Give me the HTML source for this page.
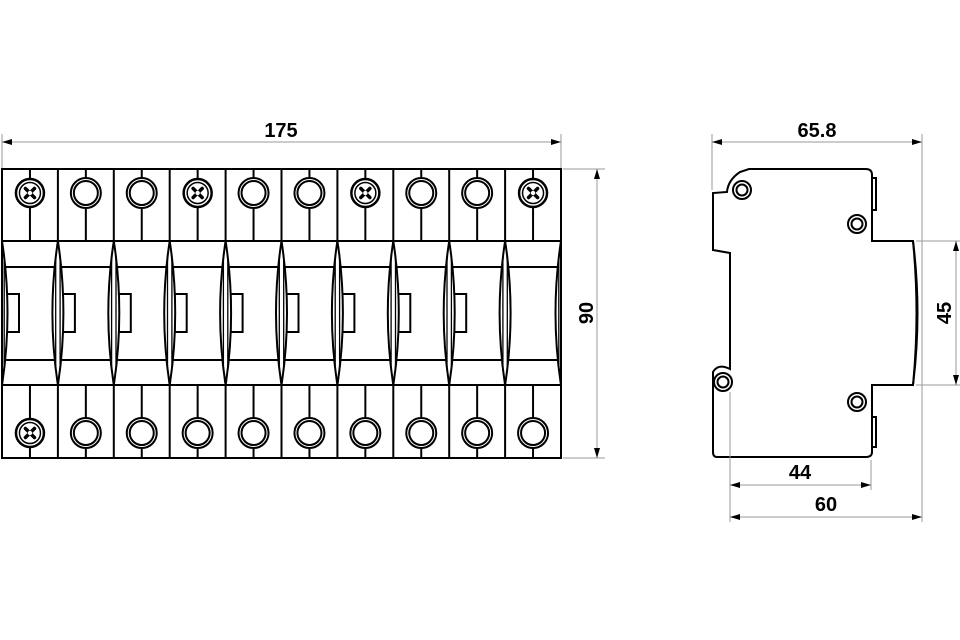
<!DOCTYPE html>
<html><head><meta charset="utf-8"><style>
html,body{margin:0;padding:0;background:#fff;width:960px;height:640px;overflow:hidden}
svg text{font-family:"Liberation Sans",sans-serif;font-weight:bold;font-size:20px;fill:#000}
</style></head><body>
<svg id="s" width="960" height="640" viewBox="0 0 960 640" xmlns="http://www.w3.org/2000/svg">
<defs>
<marker id="a" viewBox="0 0 10 6" refX="10" refY="3" markerWidth="10" markerHeight="6" orient="auto-start-reverse" markerUnits="userSpaceOnUse"><path d="M0,0 L10,3 L0,6 z" fill="#000"/></marker>
<clipPath id="c"><rect x="2" y="160" width="559" height="310"/></clipPath>
</defs>
<g id="front" fill="none" stroke="#000" stroke-width="2" clip-path="url(#c)"></g>
<rect x="2" y="169" width="559" height="289" fill="none" stroke="#000" stroke-width="2"/>
<g stroke="#999" stroke-width="1" fill="none">
<line x1="2" y1="134" x2="2" y2="168"/><line x1="561" y1="134" x2="561" y2="168"/>
<line x1="2" y1="142" x2="561" y2="142" marker-start="url(#a)" marker-end="url(#a)"/>
<line x1="563" y1="169" x2="605" y2="169"/><line x1="563" y1="458" x2="605" y2="458"/>
<line x1="597" y1="169" x2="597" y2="458" marker-start="url(#a)" marker-end="url(#a)"/>
</g>
<text x="281" y="137" text-anchor="middle">175</text>
<text transform="translate(593,313) rotate(-90)" text-anchor="middle">90</text>

<g fill="none" stroke="#000" stroke-width="2">
<path d="M749,169 L866,169 Q872,169 872,175 L872,241 L913,241 Q922,313 913,385 L872,385 L872,452 Q872,457 866,457 L717,457 Q713,457 713,452 L713,372 Q718,363 730,369 L730,253 L713,250 L713,193 L727,192 Q728,180 740,172 Z"/>
<path d="M872,178 L876,178 L876,210 L872,210 M872,417 L876,417 L876,447 L872,447" />
<path d="M913,241 Q920,313 913,385"/>
<circle cx="742" cy="190" r="9"/><circle cx="742" cy="190" r="5.5"/>
<circle cx="857" cy="224" r="9"/><circle cx="857" cy="224" r="5.5"/>
<circle cx="723" cy="382" r="9"/><circle cx="723" cy="382" r="5.5"/>
<circle cx="857" cy="402" r="9"/><circle cx="857" cy="402" r="5.5"/>
</g>
<g stroke="#999" stroke-width="1" fill="none">
<line x1="712" y1="134" x2="712" y2="190"/><line x1="922" y1="134" x2="922" y2="522"/>
<line x1="712" y1="142" x2="922" y2="142" marker-start="url(#a)" marker-end="url(#a)"/>
<line x1="916" y1="241" x2="960" y2="241"/><line x1="916" y1="385" x2="960" y2="385"/>
<line x1="956" y1="241" x2="956" y2="385" marker-start="url(#a)" marker-end="url(#a)"/>
<line x1="730" y1="392" x2="730" y2="522"/><line x1="871" y1="460" x2="871" y2="490"/>
<line x1="730" y1="485" x2="871" y2="485" marker-start="url(#a)" marker-end="url(#a)"/>
<line x1="730" y1="517" x2="922" y2="517" marker-start="url(#a)" marker-end="url(#a)"/>
</g>
<text x="800" y="479" text-anchor="middle">44</text>
<text x="826" y="511" text-anchor="middle">60</text>
<text x="817" y="137" text-anchor="middle">65.8</text>
<text transform="translate(951,313) rotate(-90)" text-anchor="middle">45</text>
</svg>
<script>
var g=document.getElementById('front'),h='';
var x0=2,p=55.9,T=169,A=241,B=385,Bo=458;
h+='<line x1="2" y1="'+A+'" x2="561" y2="'+A+'"/><line x1="2" y1="'+B+'" x2="561" y2="'+B+'"/>';
h+='<line x1="2" y1="267" x2="561" y2="267"/><line x1="2" y1="360" x2="561" y2="360"/>';
function screw(cx,cy){return '<circle cx="'+cx+'" cy="'+cy+'" r="14" fill="#fff" stroke-width="2.5"/><circle cx="'+cx+'" cy="'+cy+'" r="10.5" stroke-width="1.5"/><path stroke-width="3.5" stroke-linecap="round" d="M'+(cx-4.5)+','+(cy-4.5)+'L'+(cx+4.5)+','+(cy+4.5)+'M'+(cx+4.5)+','+(cy-4.5)+'L'+(cx-4.5)+','+(cy+4.5)+'"/><circle cx="'+(cx)+'" cy="'+cy+'" r="2.2" fill="#fff" stroke="none"/>';}
function ring(cx,cy){return '<circle cx="'+cx+'" cy="'+cy+'" r="15" fill="#fff"/><circle cx="'+cx+'" cy="'+cy+'" r="12"/>';}
var topS=[0,3,6,9];
for(var i=0;i<10;i++){
 var l=x0+i*p,c=l+p/2;
 if(i>0)h+='<line x1="'+l+'" y1="'+T+'" x2="'+l+'" y2="'+A+'"/><line x1="'+l+'" y1="'+B+'" x2="'+l+'" y2="'+Bo+'"/>';
 h+='<line x1="'+c+'" y1="'+T+'" x2="'+c+'" y2="'+A+'"/><line x1="'+c+'" y1="'+B+'" x2="'+c+'" y2="'+Bo+'"/>';
 h+=(topS.indexOf(i)>=0?screw(c,193):ring(c,193));
 h+=(i==0?screw(c,433):ring(c,433));
 if(i<9)h+='<rect x="'+(l+5)+'" y="294" width="12" height="38" fill="#fff"/>';
}
for(var i=0;i<=10;i++){
 var l=x0+i*p;
 h+='<path fill="#fff" d="M'+l+','+A+' Q'+(l+11)+',313 '+l+','+B+' Q'+(l-11)+',313 '+l+','+A+'Z"/>';
 h+='<line stroke-width="1.3" x1="'+(l-2.2)+'" y1="'+(A+14)+'" x2="'+(l-2.2)+'" y2="'+(B-14)+'"/><line stroke-width="1.3" x1="'+(l+2.2)+'" y1="'+(A+14)+'" x2="'+(l+2.2)+'" y2="'+(B-14)+'"/>';
}
g.innerHTML=h;
</script>
</body></html>
